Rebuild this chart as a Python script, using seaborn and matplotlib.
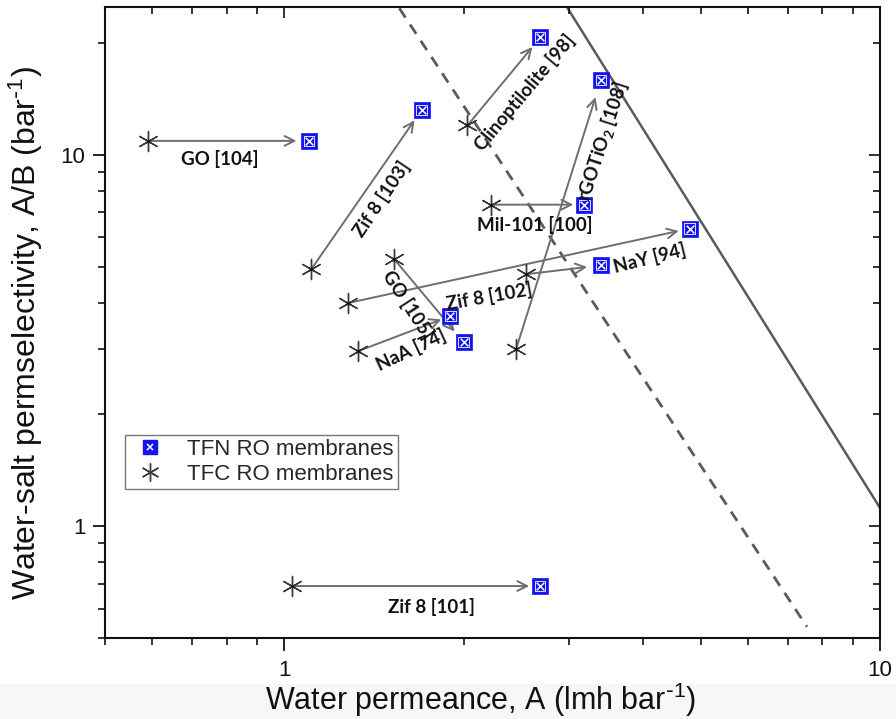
import numpy as np
import pandas as pd
import seaborn as sns
import matplotlib
matplotlib.use("Agg")
import matplotlib.pyplot as plt
from matplotlib.lines import Line2D
from matplotlib.patches import Rectangle
from matplotlib.ticker import LogLocator, NullFormatter

# ---------------- data ----------------
labels = ["GO [104]", "Zif 8 [103]", "Clinoptilolite [98]", "rGOTiO$_2$ [108]",
          "Mil-101 [100]", "NaY [94]", "Zif 8 [102]", "GO [105]", "NaA [74]",
          "Zif 8 [101]"]
tfc_A = [0.59, 1.11, 2.03, 2.45, 2.22, 1.28, 2.55, 1.53, 1.33, 1.03]
tfc_AB = [10.9, 4.92, 12.0, 3.0, 7.34, 3.99, 4.77, 5.23, 2.96, 0.69]
tfn_A = [1.10, 1.70, 2.69, 3.40, 3.19, 4.79, 3.40, 2.00, 1.90, 2.69]
tfn_AB = [10.9, 13.2, 20.7, 15.9, 7.34, 6.33, 5.04, 3.13, 3.68, 0.69]

# upper-bound lines
dashed_A = [1.56, 7.54]
dashed_AB = [24.8, 0.536]
solid_A = [2.99, 10.0]
solid_AB = [24.8, 1.12]

# ---------------- layout (label anchors / rotation) ----------------
label_pos = [(0.778, 9.76), (1.46, 7.62), (2.53, 14.75), (3.42, 10.9),
             (2.63, 6.49), (4.11, 5.26), (2.21, 4.14), (1.61, 3.94),
             (1.63, 2.98), (1.766, 0.606)]
label_rot = [0, 56, 50, 72, 0, 14, 10, -57, 25, 0]
arrow_shrink = [9, 9, 9, 13, 8, 8, 10, 10, 7, 8]

df_tfc = pd.DataFrame({"A": tfc_A, "AB": tfc_AB})
df_tfn = pd.DataFrame({"A": tfn_A, "AB": tfn_AB})

sns.set_style("white")
plt.rcParams["font.family"] = ["Liberation Sans", "DejaVu Sans"]
plt.rcParams["mathtext.default"] = "regular"

fig = plt.figure(figsize=(8.96, 7.19), dpi=100)
fig.patch.set_facecolor("white")
fig.add_artist(Rectangle((0, 0), 1, 0.048, transform=fig.transFigure,
                         facecolor="#f7f7f7", edgecolor="none", zorder=-10))
ax = fig.add_axes([105 / 896, 1 - 638 / 719, 775 / 896, 631 / 719])
ax.set_xscale("log")
ax.set_yscale("log")
ax.set_xlim(0.5, 10)
ax.set_ylim(0.5, 25)

line_col = "#5a5a5a"
sns.lineplot(x=dashed_A, y=dashed_AB, ax=ax, color=line_col, lw=2.0,
             linestyle=(0, (4, 3)), sort=False, zorder=2)
sns.lineplot(x=solid_A, y=solid_AB, ax=ax, color=line_col, lw=1.8,
             sort=False, zorder=2)

arrow_col = "#6e6e6e"
for i in range(len(labels)):
    ax.annotate("", xy=(tfn_A[i], tfn_AB[i]), xytext=(tfc_A[i], tfc_AB[i]),
                arrowprops=dict(arrowstyle="->,head_length=0.7,head_width=0.35",
                                color=arrow_col, lw=1.4, shrinkA=0,
                                shrinkB=arrow_shrink[i]), zorder=3)

# TFC asterisks
sns.scatterplot(data=df_tfc, x="A", y="AB", ax=ax, marker=(6, 2, 0), s=210,
                color="#3a3a3a", linewidth=1.0, zorder=5)
sns.scatterplot(data=df_tfc, x="A", y="AB", ax=ax, marker="o", s=6,
                color="#111111", linewidth=0, zorder=6)
# TFN boxed squares
sns.scatterplot(data=df_tfn, x="A", y="AB", ax=ax, marker="s", s=125,
                color="#1414f0", edgecolor="#1414f0", linewidth=0.5, zorder=5)
sns.scatterplot(data=df_tfn, x="A", y="AB", ax=ax, marker="s", s=55,
                color="none", edgecolor="white", linewidth=0.6, zorder=6)
sns.scatterplot(data=df_tfn, x="A", y="AB", ax=ax, marker="x", s=30,
                color="white", linewidth=1.1, zorder=7)

for lab, (px, py), rot in zip(labels, label_pos, label_rot):
    ax.text(px, py, lab, rotation=rot, rotation_mode="anchor", ha="center",
            va="center", fontsize=13.5, fontweight="bold",
            family=["Lato", "DejaVu Sans"], color="#111111", zorder=8)

# ticks
ax.set_xticks([1, 10])
ax.set_xticklabels(["1", "10"])
ax.set_yticks([1, 10])
ax.set_yticklabels(["1", "10"])
for axis in (ax.xaxis, ax.yaxis):
    axis.set_minor_locator(LogLocator(base=10, subs=np.arange(2, 10)))
    axis.set_minor_formatter(NullFormatter())
ax.tick_params(which="major", direction="out", length=9, width=1.3,
               labelsize=16, pad=7, colors="#111111")
ax.tick_params(axis="y", which="major", pad=5)
ax.tick_params(which="minor", direction="out", length=5, width=1.2,
               colors="#111111")
for s in ax.spines.values():
    s.set_linewidth(1.5)
    s.set_color("#111111")

# mirrored inward ticks on top/right
axt = ax.twiny()
axt.set_xscale("log")
axt.set_xlim(ax.get_xlim())
axt.set_xticks([1, 10])
axt.xaxis.set_minor_locator(LogLocator(base=10, subs=np.arange(2, 10)))
axt.xaxis.set_minor_formatter(NullFormatter())
axt.tick_params(which="both", direction="in", labeltop=False, width=1.2,
                colors="#111111")
axt.tick_params(which="major", length=8)
axt.tick_params(which="minor", length=5)
axr = ax.twinx()
axr.set_yscale("log")
axr.set_ylim(ax.get_ylim())
axr.set_yticks([1, 10])
axr.yaxis.set_minor_locator(LogLocator(base=10, subs=np.arange(2, 10)))
axr.yaxis.set_minor_formatter(NullFormatter())
axr.tick_params(which="both", direction="in", labelright=False, width=1.2,
                colors="#111111")
axr.tick_params(which="major", length=8)
axr.tick_params(which="minor", length=5)
for a in (axt, axr):
    a.grid(False)
    for s in a.spines.values():
        s.set_visible(False)

ax.set_xlabel("Water permeance, A (lmh bar$^{\\text{-}1}$)", fontsize=22,
              color="#111111")
ax.xaxis.set_label_coords(0.485, -0.067)
ax.set_ylabel("Water-salt permselectivity, A/B (bar$^{\\text{-}1}$)",
              fontsize=23, color="#111111")
ax.yaxis.set_label_coords(-0.078, 0.483)

# legend
h_tfn = (Line2D([], [], marker="s", ls="none", markersize=10,
                markerfacecolor="#1414f0", markeredgecolor="#1414f0"),
         Line2D([], [], marker="x", ls="none", markersize=5,
                markeredgecolor="white", markeredgewidth=1.1))
h_tfc = Line2D([], [], marker=(6, 2, 0), ls="none", markersize=13,
               markeredgecolor="#3a3a3a", markeredgewidth=1.0)
leg = ax.legend([h_tfn, h_tfc], ["TFN RO membranes", "TFC RO membranes"],
                loc="upper left", bbox_to_anchor=(0.026, 0.322),
                borderaxespad=0, fontsize=16, frameon=True, fancybox=False,
                handlelength=1.8, handletextpad=0.8, labelspacing=0.15,
                borderpad=0.2)
leg.get_frame().set_edgecolor("#555555")
leg.get_frame().set_linewidth(1.0)

fig.savefig("out.png", dpi=100)
